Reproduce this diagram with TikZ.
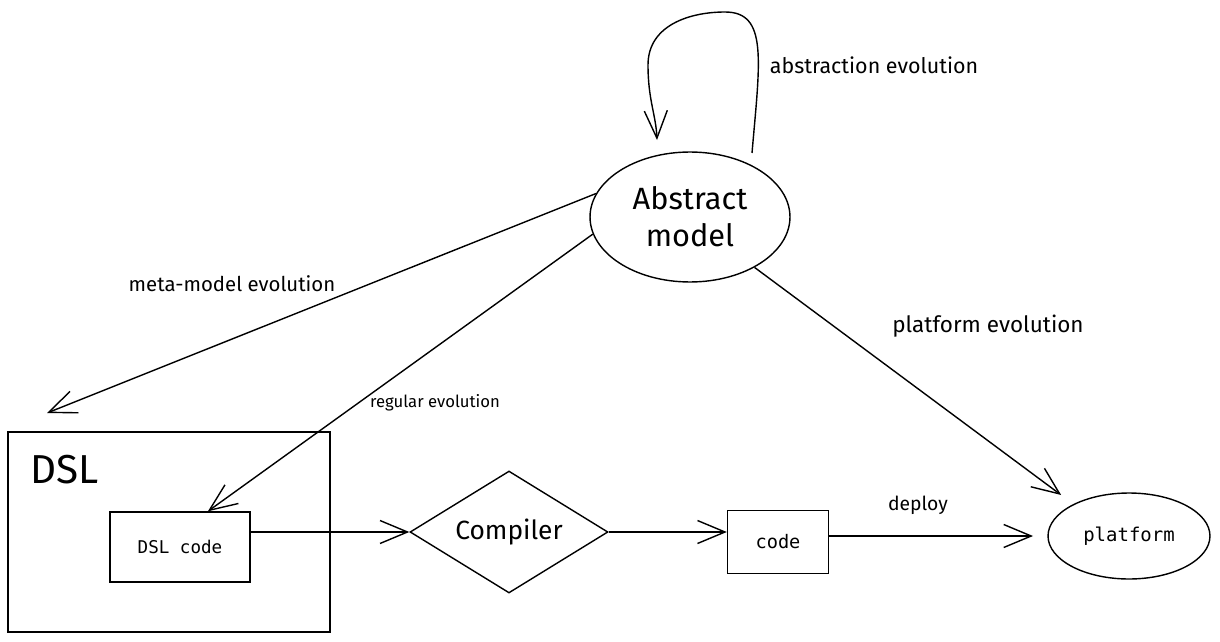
\documentclass[tikz,border=0pt]{standalone}
\usepackage{fontspec}
\setmainfont{Fira Sans}
\setmonofont{DejaVu Sans Mono}
\usetikzlibrary{shapes.geometric,arrows.meta}

\begin{document}
\begin{tikzpicture}[x=0.02cm,y=-0.02cm,line width=0.8pt,
    arrow/.style={-{Straight Barb[length=5.5mm,width=4.6mm]}},
    box/.style={draw, inner sep=0pt},
    lbl/.style={font=\fontsize{12}{14}\selectfont}]
    \useasboundingbox (0,0) rectangle (1220,642);
    \node[box, ellipse, minimum width=4cm, minimum height=2.6cm, align=center, font=\fontsize{17.5}{21}\selectfont] (abstract) at (690,217) {Abstract\\model};
    \node[box, ellipse, minimum width=3.24cm, minimum height=1.72cm, outer sep=0.3cm, font=\ttfamily\fontsize{10.8}{13}\selectfont] (platform) at (1129,536) {platform};
    \node[box, minimum width=6.44cm, minimum height=4cm] (dsl) at (169,532) {};
    \node[font=\fontsize{23}{27}\selectfont] (dsltitle) at (65,470) {DSL};
    \node[box, minimum width=2.8cm, minimum height=1.4cm, font=\ttfamily\fontsize{10}{12}\selectfont] (dslcode) at (180,547) {DSL code};
    \node[box, diamond, aspect=1.6, minimum width=3.96cm, minimum height=2.44cm, font=\fontsize{15}{18}\selectfont] (compiler) at (509,532) {Compiler};
    \node[box, minimum width=2.02cm, minimum height=1.26cm, font=\ttfamily\fontsize{10.6}{13}\selectfont] (code) at (778,542) {code};

    \coordinate (loopstart) at (752,153);
    \coordinate (looptip) at (657,140);
    \coordinate (metaend) at (47,413);
    \draw[arrow] (loopstart) .. controls (760,60) and (768,12) .. (725,12) .. controls (690,12) and (648,25) .. (648,65) .. controls (648,100) and (656,115) .. (looptip);
    \draw[arrow] (abstract.166) -- (metaend);
    \draw[arrow] (abstract.190) -- (dslcode.52);
    \draw[arrow] (abstract.-38) -- (platform.north west);
    \draw[arrow] (dslcode.east |- compiler.west) -- (compiler.west);
    \draw[arrow] (compiler.east) -- (compiler.east -| code.west);
    \draw[arrow] (code.east |- platform.west) -- (platform.west);

    \node[lbl, font=\fontsize{12.2}{14}\selectfont] (absevo) at (874,65) {abstraction evolution};
    \node[lbl, font=\fontsize{11.6}{14}\selectfont] (metaevo) at (232,284) {meta-model evolution};
    \node[lbl, font=\fontsize{9.5}{11}\selectfont] (regevo) at (435,403) {regular evolution};
    \node[lbl, font=\fontsize{12.8}{15}\selectfont] (platevo) at (988,326) {platform evolution};
    \node[lbl, font=\fontsize{11}{13}\selectfont] (deploy) at (918,505) {deploy};
\end{tikzpicture}
\end{document}
